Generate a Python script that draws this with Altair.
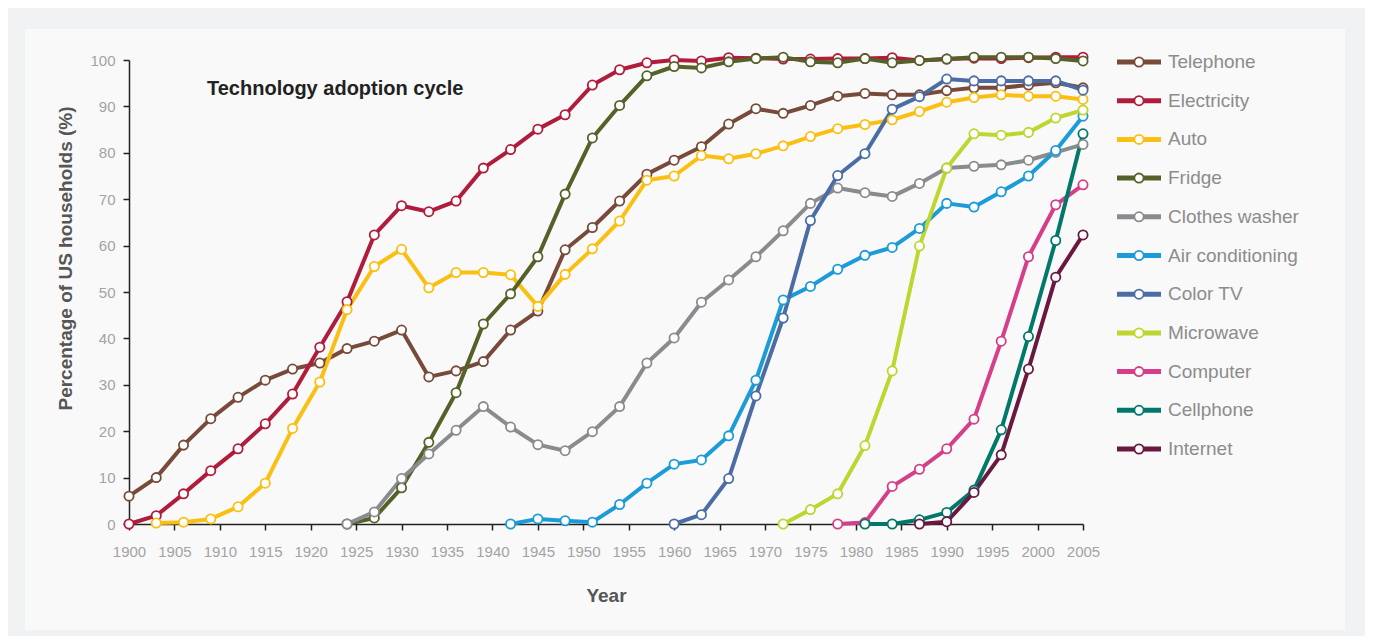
import altair as alt
import pandas as pd

YEARS = [1900, 1903, 1906, 1909, 1912, 1915, 1918, 1921, 1924, 1927, 1930, 1933,
         1936, 1939, 1942, 1945, 1948, 1951, 1954, 1957, 1960, 1963, 1966, 1969,
         1972, 1975, 1978, 1981, 1984, 1987, 1990, 1993, 1996, 1999, 2002, 2005]

SERIES = ["Telephone", "Electricity", "Auto", "Fridge", "Clothes washer",
          "Air conditioning", "Color TV", "Microwave", "Computer", "Cellphone", "Internet"]

COLORS = ["#774a3a", "#b01c3b", "#fbbf12", "#546229", "#898b8e",
          "#1b9bd7", "#4a6ea4", "#bed62f", "#d53f8a", "#00786a", "#6a1840"]

N = None
TELEPHONE = [6, 10, 17, 22.7, 27.3, 31, 33.4, 34.7, 37.8, 39.4, 41.8, 31.7,
             33, 35, 41.8, 45.9, 59.1, 63.9, 69.6, 75.4, 78.4, 81.3, 86.2, 89.5,
             88.5, 90.2, 92.2, 92.8, 92.5, 92.5, 93.4, 94.0, 94.0, 94.6, 95.1, 94.0]
ELECTRICITY = [0, 1.8, 6.5, 11.5, 16.2, 21.6, 28, 38.1, 47.9, 62.3, 68.6, 67.3,
               69.6, 76.7, 80.7, 85.1, 88.2, 94.6, 97.9, 99.4, 100, 99.8, 100.5, 100.4,
               100.2, 100.2, 100.3, 100.3, 100.5, 99.9, 100.2, 100.4, 100.3, 100.5, 100.6, 100.6]
AUTO = [N, 0.2, 0.4, 1.1, 3.7, 8.8, 20.6, 30.6, 46.2, 55.5, 59.2, 50.9,
        54.2, 54.2, 53.7, 46.9, 53.8, 59.3, 65.3, 74.1, 75.0, 79.4, 78.7, 79.8,
        81.5, 83.5, 85.2, 86.1, 87.1, 88.9, 90.9, 91.9, 92.5, 92.2, 92.2, 91.5]
FRIDGE = [N, N, N, N, N, N, N, N, 0, 1.3, 7.8, 17.6,
          28.3, 43.1, 49.6, 57.6, 71.1, 83.2, 90.2, 96.6, 98.6, 98.3, 99.6, 100.3,
          100.6, 99.6, 99.4, 100.3, 99.4, 99.9, 100.2, 100.6, 100.6, 100.6, 100.3, 99.8]
WASHER = [N, N, N, N, N, N, N, N, 0, 2.6, 9.8, 15.1,
          20.2, 25.3, 20.9, 17.1, 15.8, 19.9, 25.3, 34.7, 40.1, 47.8, 52.6, 57.6,
          63.2, 69.1, 72.4, 71.4, 70.6, 73.4, 76.7, 77.1, 77.4, 78.4, 80.1, 81.8]
AIRCON = [N, N, N, N, N, N, N, N, N, N, N, N,
          N, N, 0, 1.1, 0.7, 0.4, 4.2, 8.8, 12.9, 13.8, 19.0, 31.0,
          48.3, 51.2, 54.9, 57.9, 59.6, 63.7, 69.1, 68.3, 71.6, 75.0, 80.5, 87.9]
COLORTV = [N, N, N, N, N, N, N, N, N, N, N, N,
           N, N, N, N, N, N, N, N, 0, 2.0, 9.8, 27.6,
           44.4, 65.4, 75.1, 79.8, 89.4, 92.1, 95.9, 95.5, 95.5, 95.5, 95.5, 93.5]
MICROWAVE = [N, N, N, N, N, N, N, N, N, N, N, N,
             N, N, N, N, N, N, N, N, N, N, N, N,
             0, 3.1, 6.5, 16.9, 33.0, 59.9, 76.7, 84.1, 83.8, 84.4, 87.5, 89.2]
COMPUTER = [N, N, N, N, N, N, N, N, N, N, N, N,
            N, N, N, N, N, N, N, N, N, N, N, N,
            N, N, 0, 0.3, 8.1, 11.8, 16.2, 22.6, 39.4, 57.6, 68.8, 73.1]
CELLPHONE = [N, N, N, N, N, N, N, N, N, N, N, N,
             N, N, N, N, N, N, N, N, N, N, N, N,
             N, N, N, 0, 0, 0.9, 2.5, 7.3, 20.3, 40.4, 61.1, 84.1]
INTERNET = [N, N, N, N, N, N, N, N, N, N, N, N,
            N, N, N, N, N, N, N, N, N, N, N, N,
            N, N, N, N, N, 0, 0.5, 6.8, 14.9, 33.4, 53.2, 62.3]

VALUES = [TELEPHONE, ELECTRICITY, AUTO, FRIDGE, WASHER, AIRCON,
          COLORTV, MICROWAVE, COMPUTER, CELLPHONE, INTERNET]

X_TICKS = list(range(1900, 2006, 5))
Y_TICKS = list(range(0, 101, 10))

rows = []
for name, vals in zip(SERIES, VALUES):
    for yr, v in zip(YEARS, vals):
        if v is not None:
            rows.append({"series": name, "year": yr, "value": v})
df = pd.DataFrame(rows)
legend_df = pd.DataFrame({"series": SERIES})

FONT = "Liberation Sans"
W, H = 954, 464
RING = "#f1f2f4"

color_scale = alt.Scale(domain=SERIES, range=COLORS)

x_enc = alt.X("year:Q",
              scale=alt.Scale(domain=[1900, 2005], nice=False, zero=False),
              axis=alt.Axis(values=X_TICKS, format="d", title="Year",
                            labelFlush=False, labelPadding=14,
                            titlePadding=27))
y_enc = alt.Y("value:Q",
              scale=alt.Scale(domain=[0, 100], nice=False),
              axis=alt.Axis(values=Y_TICKS, title="Percentage of US households (%)",
                            labelPadding=8, titlePadding=14, titleY=198))

one = pd.DataFrame({"p": [0]})


def ring_strip(x0, x1, y0, y1):
    return alt.Chart(one).mark_rect(color=RING).encode(
        x=alt.value(x0), x2=alt.value(x1), y=alt.value(y0), y2=alt.value(y1))


ring = alt.layer(
    ring_strip(-121, 1236, -52, -31),
    ring_strip(-121, 1236, 570, 576),
    ring_strip(-121, -104, -52, 576),
    ring_strip(1216, 1236, -52, 576),
)

lines = alt.Chart(df).mark_line(strokeWidth=4, strokeJoin="round").encode(
    x=x_enc, y=y_enc,
    color=alt.Color("series:N", scale=color_scale, legend=None),
    detail="series:N",
)

points = alt.Chart(df).mark_point(shape="circle", fill="white", fillOpacity=1,
                                  opacity=1, size=85, strokeWidth=1.8).encode(
    x="year:Q", y="value:Q",
    stroke=alt.Stroke("series:N", scale=color_scale, legend=None),
)

data_layer = alt.layer(lines, points)

leg_y = alt.Y("series:N", scale=alt.Scale(type="point", domain=SERIES,
                                          range=[2, 389], padding=0), axis=None)

leg_rule = alt.Chart(legend_df).mark_rule(strokeWidth=5).encode(
    y=leg_y, x=alt.value(988), x2=alt.value(1032),
    color=alt.Color("series:N", scale=color_scale, legend=None),
)
leg_pt = alt.Chart(legend_df).mark_point(shape="circle", fill="white", fillOpacity=1,
                                         opacity=1, size=85, strokeWidth=1.8).encode(
    y=leg_y, x=alt.value(1010),
    stroke=alt.Stroke("series:N", scale=color_scale, legend=None),
)
leg_txt = alt.Chart(legend_df).mark_text(align="left", baseline="middle",
                                         font=FONT, fontSize=19, color="#8c8c8c").encode(
    y=leg_y, x=alt.value(1039), text="series:N",
)
legend_layer = alt.layer(leg_rule, leg_pt, leg_txt)

title = alt.Chart(pd.DataFrame({"t": ["Technology adoption cycle"]})).mark_text(
    align="left", baseline="middle", font=FONT, fontSize=20, fontWeight="bold",
    color="#222222").encode(
    x=alt.value(78), y=alt.value(29), text="t:N"
)

chart = alt.layer(ring, data_layer, legend_layer, title).resolve_scale(
    y="independent"
).properties(
    width=W, height=H,
    autosize=alt.AutoSizeParams(type="none"),
    padding={"left": 121, "top": 52, "right": 282, "bottom": 112},
    background="#f9f9f9",
).configure(font=FONT).configure_view(
    stroke=None, fill=None
).configure_axis(
    grid=False,
    domainColor="#222222", domainWidth=1.5,
    tickColor="#222222", tickWidth=1.5, tickSize=6,
    labelFont=FONT, labelFontSize=15, labelColor="#a3a3a3",
    titleFont=FONT, titleFontSize=19, titleFontWeight="bold", titleColor="#555555",
)

chart.save("out.html", embed_options={"renderer": "svg", "actions": False})
